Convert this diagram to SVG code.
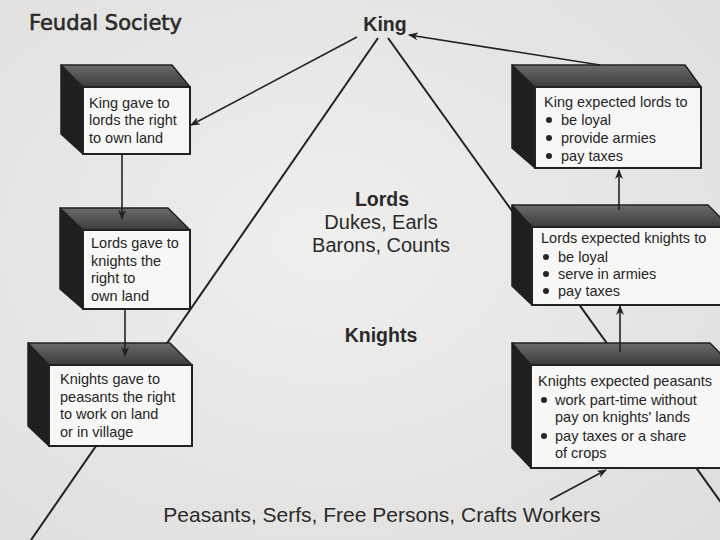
<svg xmlns="http://www.w3.org/2000/svg" width="720" height="540" viewBox="0 0 720 540">
<defs>
<linearGradient id="topg" x1="0" y1="0" x2="0" y2="1">
<stop offset="0" stop-color="#6a6a6a"/><stop offset="1" stop-color="#3c3c3c"/>
</linearGradient>
<radialGradient id="bg" cx="0.45" cy="0.45" r="0.8">
<stop offset="0" stop-color="#efefed"/><stop offset="1" stop-color="#dedddb"/>
</radialGradient>
<marker id="ah" markerWidth="10" markerHeight="8" refX="9" refY="4" orient="auto" markerUnits="userSpaceOnUse">
<path d="M0,0 L10,4 L0,8 L3,4 Z" fill="#222"/>
</marker>
<style>
.top{fill:url(#topg);stroke:#222;stroke-width:1.5;stroke-linejoin:round}
.side{fill:#1f1f1f;stroke:#1f1f1f;stroke-width:1.5;stroke-linejoin:round}
.front{fill:#f7f7f5;stroke:#222;stroke-width:2}
.bt{font-family:"Liberation Sans",Arial,sans-serif;font-size:14.5px;fill:#262626}
.ct{font-family:"Liberation Sans",Arial,sans-serif;font-size:21px;fill:#2a2a2a;text-anchor:middle}
.cm{font-family:"Liberation Sans",Arial,sans-serif;font-size:20px;fill:#2a2a2a;text-anchor:middle}
.cb{font-family:"Liberation Sans",Arial,sans-serif;font-size:19.5px;font-weight:bold;fill:#2a2a2a;text-anchor:middle}
.ln{stroke:#222;stroke-width:2;fill:none}
.ar{stroke:#222;stroke-width:1.6;fill:none;marker-end:url(#ah)}
.dot{fill:#262626}
</style>
</defs>
<rect width="720" height="540" fill="url(#bg)"/>

<g id="pyramid-lines">
<line class="ln" x1="378" y1="38" x2="31" y2="540"/>
<line class="ln" x1="388" y1="38" x2="748" y2="540"/>
</g>

<g id="title"><text x="29" y="30" font-family="'DejaVu Sans',sans-serif" font-size="21" fill="#2a2a2a" stroke="#2a2a2a" stroke-width="0.6">Feudal Society</text></g>
<g id="king"><text class="cb" x="385" y="31">King</text></g>
<g id="lords"><text class="cb" x="382" y="206">Lords</text>
<text class="cm" x="381" y="229">Dukes, Earls</text>
<text class="cm" x="381" y="252">Barons, Counts</text></g>
<g id="knights"><text class="cb" x="381" y="342">Knights</text></g>
<g id="peasants"><text class="ct" x="382" y="522">Peasants, Serfs, Free Persons, Crafts Workers</text></g>

<g id="box-king-gave">
<polygon class="side" points="61,65 83,87 83,154 61,134"/>
<polygon class="top" points="61,65 172,65 190,87 83,87"/>
<rect class="front" x="83" y="87" width="107" height="67"/>
<text class="bt" x="89" y="108">King gave to</text>
<text class="bt" x="89" y="125">lords the right</text>
<text class="bt" x="89" y="143">to own land</text>
</g>

<g id="box-lords-gave">
<polygon class="side" points="60,208 83,230 83,309 60,289"/>
<polygon class="top" points="60,208 168,208 190,230 83,230"/>
<rect class="front" x="83" y="230" width="107" height="79"/>
<text class="bt" x="91" y="248">Lords gave to</text>
<text class="bt" x="91" y="266">knights the</text>
<text class="bt" x="91" y="283">right to</text>
<text class="bt" x="91" y="301">own land</text>
</g>

<g id="box-knights-gave">
<polygon class="side" points="28,343 49,365 49,446 28,426"/>
<polygon class="top" points="28,343 170,343 192,365 49,365"/>
<rect class="front" x="49" y="365" width="143" height="81"/>
<text class="bt" x="60" y="384">Knights gave to</text>
<text class="bt" x="60" y="402">peasants the right</text>
<text class="bt" x="60" y="419">to work on land</text>
<text class="bt" x="60" y="437">or in village</text>
</g>

<g id="box-king-expected">
<polygon class="side" points="512,65 535,87 535,168 512,148"/>
<polygon class="top" points="512,65 685,65 701,87 535,87"/>
<rect class="front" x="535" y="87" width="166" height="81"/>
<text class="bt" x="544" y="107">King expected lords to</text>
<circle class="dot" cx="549" cy="120" r="3"/><text class="bt" x="561" y="125">be loyal</text>
<circle class="dot" cx="549" cy="138" r="3"/><text class="bt" x="561" y="143">provide armies</text>
<circle class="dot" cx="549" cy="156" r="3"/><text class="bt" x="561" y="161">pay taxes</text>
</g>

<g id="box-lords-expected">
<polygon class="side" points="512,205 532,227 532,305 512,286"/>
<polygon class="top" points="512,205 708,205 730,227 532,227"/>
<rect class="front" x="532" y="227" width="200" height="78"/>
<text class="bt" x="541" y="243">Lords expected knights to</text>
<circle class="dot" cx="546" cy="257" r="3"/><text class="bt" x="558" y="262">be loyal</text>
<circle class="dot" cx="546" cy="274" r="3"/><text class="bt" x="558" y="279">serve in armies</text>
<circle class="dot" cx="546" cy="291" r="3"/><text class="bt" x="558" y="296">pay taxes</text>
</g>

<g id="box-knights-expected">
<polygon class="side" points="512,343 531,365 531,468 512,448"/>
<polygon class="top" points="512,343 710,343 732,365 531,365"/>
<rect class="front" x="531" y="365" width="200" height="103"/>
<text class="bt" x="538" y="386">Knights expected peasants</text>
<circle class="dot" cx="544" cy="400" r="3"/><text class="bt" x="555" y="405">work part-time without</text>
<text class="bt" x="555" y="422">pay on knights' lands</text>
<circle class="dot" cx="544" cy="436" r="3"/><text class="bt" x="555" y="441">pay taxes or a share</text>
<text class="bt" x="555" y="458">of crops</text>
</g>

<g id="connectors">
<line class="ar" x1="357" y1="37" x2="191" y2="125"/>
<line class="ar" x1="600" y1="65" x2="409" y2="35"/>
<line class="ar" x1="122" y1="154" x2="122" y2="219"/>
<line class="ar" x1="125" y1="309" x2="125" y2="356"/>
<line class="ar" x1="619" y1="210" x2="619" y2="170"/>
<line class="ar" x1="620" y1="352" x2="620" y2="306"/>
<line class="ar" x1="550" y1="500" x2="606" y2="470"/>
</g>
</svg>
